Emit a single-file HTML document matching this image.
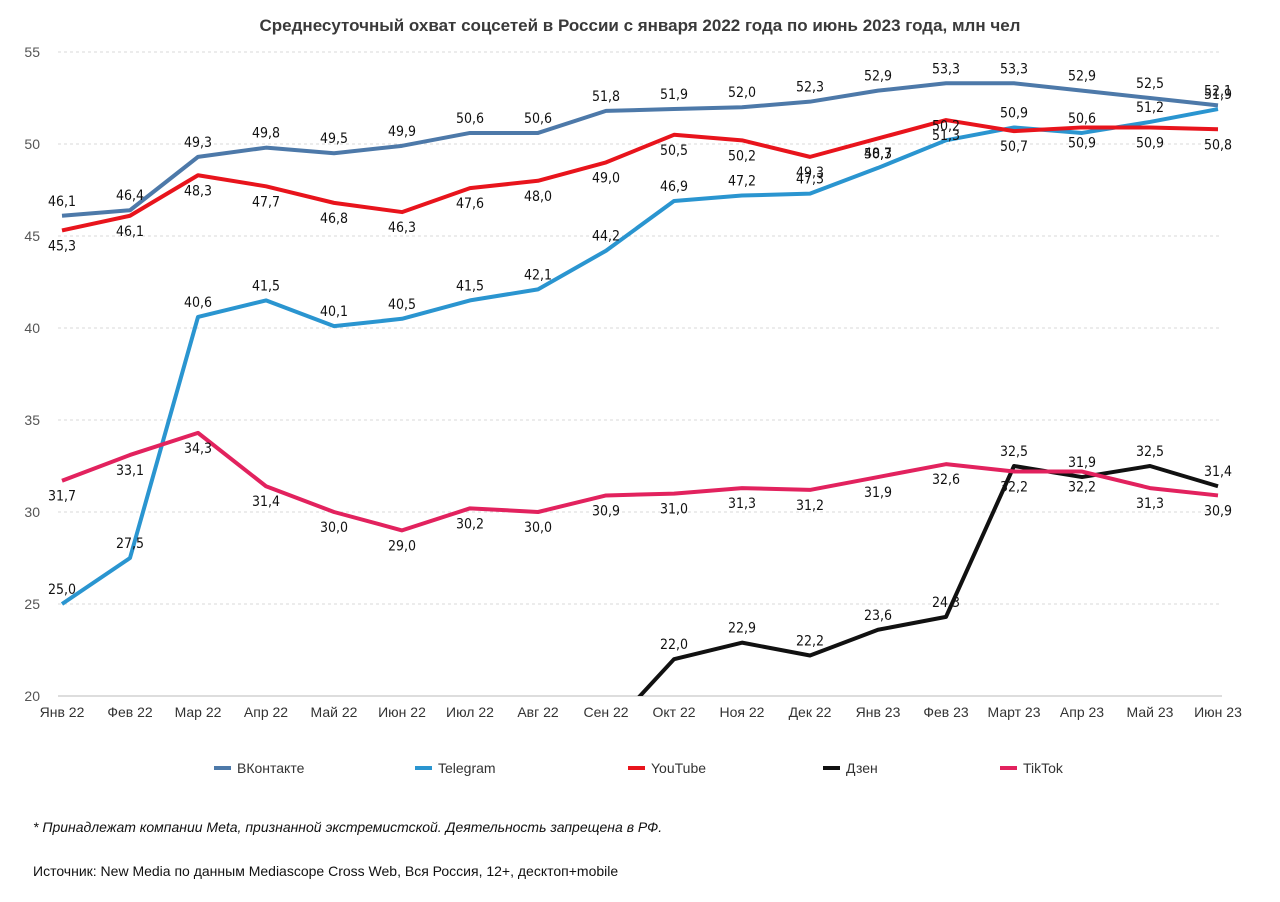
<!DOCTYPE html>
<html><head><meta charset="utf-8">
<style>
body{margin:0;background:#fff;font-family:"Liberation Sans",sans-serif;}
svg text{font-family:"Liberation Sans",sans-serif;}
svg text.lbl{font-family:"Liberation Sans Narrow","DejaVu Sans Condensed","Liberation Sans",sans-serif;}
</style></head>
<body>
<svg id="chart" width="1280" height="897" xmlns="http://www.w3.org/2000/svg">
<text x="640" y="31" text-anchor="middle" font-size="17" font-weight="bold" fill="#3a3a3a">Среднесуточный охват соцсетей в России с января 2022 года по июнь 2023 года, млн чел</text>
<g id="grid"></g><g id="axes"></g><g id="series"></g><g id="labels"></g>
<g id="legend"></g>
<text x="33" y="832" font-size="14" font-style="italic" fill="#111">* Принадлежат компании Meta, признанной экстремистской. Деятельность запрещена в РФ.</text>
<text x="33" y="876" font-size="14" fill="#111">Источник: New Media по данным Mediascope Cross Web, Вся Россия, 12+, десктоп+mobile</text>
</svg>
<script>
const categories=["Янв 22","Фев 22","Мар 22","Апр 22","Май 22","Июн 22","Июл 22","Авг 22","Сен 22","Окт 22","Ноя 22","Дек 22","Янв 23","Фев 23","Март 23","Апр 23","Май 23","Июн 23"];
const yTicks=[20,25,30,35,40,45,50,55];
const vk=[46.1,46.4,49.3,49.8,49.5,49.9,50.6,50.6,51.8,51.9,52.0,52.3,52.9,53.3,53.3,52.9,52.5,52.1];
const telegram=[25.0,27.5,40.6,41.5,40.1,40.5,41.5,42.1,44.2,46.9,47.2,47.3,48.7,50.2,50.9,50.6,51.2,51.9];
const youtube=[45.3,46.1,48.3,47.7,46.8,46.3,47.6,48.0,49.0,50.5,50.2,49.3,50.3,51.3,50.7,50.9,50.9,50.8];
const dzen=[null,null,null,null,null,null,null,null,18.0,22.0,22.9,22.2,23.6,24.3,32.5,31.9,32.5,31.4];
const tiktok=[31.7,33.1,34.3,31.4,30.0,29.0,30.2,30.0,30.9,31.0,31.3,31.2,31.9,32.6,32.2,32.2,31.3,30.9];

const NS="http://www.w3.org/2000/svg";
const X0=62,X1=1218,Y0=696,Y1=52,VMIN=20,VMAX=55;
const x=i=>X0+i*(X1-X0)/(categories.length-1);
const y=v=>Y0-(v-VMIN)*(Y0-Y1)/(VMAX-VMIN);
function mk(tag,attrs,parent){const e=document.createElementNS(NS,tag);for(const k in attrs)e.setAttribute(k,attrs[k]);parent.appendChild(e);return e;}
const grid=document.getElementById('grid'),axes=document.getElementById('axes');
yTicks.forEach(t=>{
  const l=mk('line',{x1:58,x2:1222,y1:y(t),y2:y(t),stroke:t===20?'#bbb':'#d8d8d8','stroke-dasharray':t===20?'':'3,3'},grid);
  
  
  const tx=mk('text',{x:40,y:y(t)+5,'text-anchor':'end','font-size':14,fill:'#555'},axes);
  tx.textContent=t;
  
  
});
categories.forEach((c,i)=>{
  const tx=mk('text',{x:x(i),y:717,'text-anchor':'middle','font-size':14,fill:'#333'},axes);
  tx.textContent=c;
  
  
});
const series=[
 {name:'ВКонтакте',key:'vk',data:vk,color:'#4d79a9',dy:-10},
 {name:'Telegram',key:'telegram',data:telegram,color:'#2a95d0',dy:-10},
 {name:'YouTube',key:'youtube',data:youtube,color:'#e8141c',dy:20},
 {name:'Дзен',key:'dzen',data:dzen,color:'#111111',dy:-10},
 {name:'TikTok',key:'tiktok',data:tiktok,color:'#e2225e',dy:20}
];
const sg=document.getElementById('series'),lg=document.getElementById('labels');
const cp=mk('clipPath',{id:'plotclip'},sg);
mk('rect',{x:0,y:0,width:1280,height:Y0},cp);
series.forEach(s=>{
  let d='';
  s.data.forEach((v,i)=>{if(v==null)return;d+=(d?'L':'M')+x(i)+','+y(v);});
  const p=mk('path',{d:d,fill:'none',stroke:s.color,'stroke-width':4,'stroke-linejoin':'round','clip-path':'url(#plotclip)'},sg);
  
  
  s.data.forEach((v,i)=>{
    if(v==null||v<VMIN)return;
    const t=mk('text',{class:'lbl',x:x(i),y:y(v)+s.dy,'text-anchor':'middle','font-size':14,fill:'#111'},lg);
    t.textContent=v.toFixed(1).replace('.',',');
    
    
  });
});
const leg=document.getElementById('legend');
const lx=[214,415,628,823,1000];
series.forEach((s,i)=>{
  const g=mk('g',{},leg);
  
  
  mk('line',{x1:lx[i],x2:lx[i]+17,y1:768,y2:768,stroke:s.color,'stroke-width':4},g);
  const t=mk('text',{x:lx[i]+23,y:773,'font-size':14,fill:'#333'},g);
  t.textContent=s.name;
});
</script>
</body></html>
